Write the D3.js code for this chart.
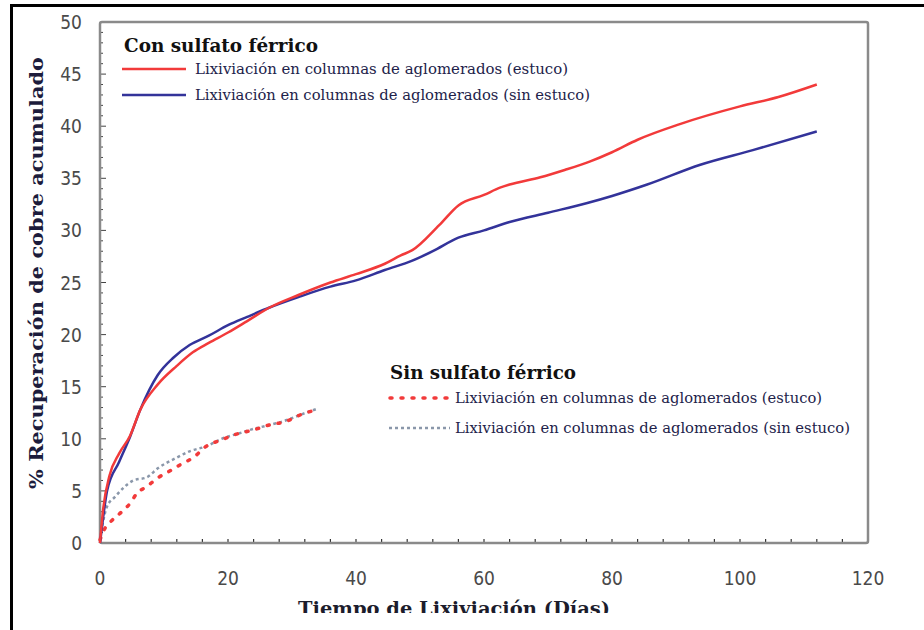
<!DOCTYPE html>
<html>
<head>
<meta charset="utf-8">
<script src="https://cdn.jsdelivr.net/npm/d3@7/dist/d3.min.js"></script>
<style>
  body { margin: 0; background: #fff; }
  #chart { width: 924px; height: 630px; }
</style>
</head>
<body>
<div id="chart"></div>
<script>
// data (días, % recuperación)
const con_estuco_dias = [0, 0.5, 1.5, 3, 4.7, 6.3, 9, 12, 14.5, 17, 20, 23, 26.5, 31, 36, 40, 44.5, 47, 48.8, 53, 56, 60, 62.5, 64, 68.8, 72.6, 76.5, 80, 84, 90.6, 100, 106, 112];
const con_estuco_val  = [0, 3.3, 6.5, 8.6, 10.3, 12.8, 15.2, 17.0, 18.3, 19.2, 20.2, 21.3, 22.6, 23.8, 25.0, 25.8, 26.8, 27.6, 28.1, 30.5, 32.4, 33.4, 34.1, 34.4, 35.1, 35.8, 36.6, 37.5, 38.7, 40.2, 41.9, 42.8, 44.0];

const con_sinestuco_dias = [0, 0.5, 1.1, 3, 4.7, 6.3, 9, 11.5, 14, 17, 20, 23, 26.5, 31, 36, 40, 44.5, 48.8, 52, 56, 60, 64, 70, 76, 80, 85.5, 93.8, 102, 112];
const con_sinestuco_val  = [0, 2.5, 5.0, 7.8, 10.2, 12.8, 16.1, 17.8, 19.0, 19.9, 20.9, 21.7, 22.6, 23.6, 24.6, 25.2, 26.2, 27.1, 28.0, 29.3, 30.0, 30.8, 31.7, 32.6, 33.3, 34.4, 36.3, 37.7, 39.5];

const sin_estuco_dias = [0, 0.5, 1.6, 3.4, 4.7, 5.8, 7.3, 8.9, 10.6, 12.5, 14.8, 16.4, 19, 21.6, 23.7, 26.3, 29.2, 31.3, 33.9];
const sin_estuco_val  = [0.3, 1.1, 2.0, 3.0, 3.8, 4.8, 5.4, 6.2, 6.8, 7.5, 8.3, 9.2, 9.9, 10.5, 10.8, 11.3, 11.7, 12.3, 12.8];

const sin_sinestuco_dias = [0, 0.3, 1.1, 2.3, 5.2, 7.3, 9.1, 11.7, 14, 16.7, 19, 21.6, 23.7, 26.3, 29.2, 31.3, 34];
const sin_sinestuco_val  = [0.5, 1.5, 3.5, 4.4, 6.0, 6.3, 7.2, 8.1, 8.8, 9.3, 10.0, 10.5, 10.9, 11.3, 11.8, 12.3, 12.9];

const x_ticks = [0, 20, 40, 60, 80, 100, 120];
const y_ticks = [0, 5, 10, 15, 20, 25, 30, 35, 40, 45, 50];

const legend_con = ["Lixiviación en columnas de aglomerados (estuco)", "Lixiviación en columnas de aglomerados (sin estuco)"];
const legend_sin = ["Lixiviación en columnas de aglomerados (estuco)", "Lixiviación en columnas de aglomerados (sin estuco)"];

const width = 924, height = 630;
const svg = d3.select("#chart").append("svg")
              .attr("width", width)
              .attr("height", height);

svg.append("rect").attr("width", width).attr("height", height).attr("fill", "#fff");

// outer frame (cut at right and bottom)
svg.append("path")
   .attr("d", `M11.5,${height} V5.5 H${width}`)
   .attr("fill", "none")
   .attr("stroke", "#000")
   .attr("stroke-width", 3);

const x = d3.scaleLinear().domain([0, 120]).range([100, 868]);
const y = d3.scaleLinear().domain([0, 50]).range([543, 22]);

const tick_font = "'DejaVu Sans Condensed', 'Liberation Sans Narrow', sans-serif";
const serif = "'DejaVu Serif', 'Liberation Serif', serif";

// minor ticks inside the frame
svg.append("g")
   .selectAll("line")
   .data(d3.range(4, 120, 4))
   .join("line")
   .attr("x1", d => x(d)).attr("x2", d => x(d))
   .attr("y1", y(0)).attr("y2", y(0) - 4)
   .attr("stroke", "#333").attr("stroke-width", 1.2);

svg.append("g")
   .selectAll("line")
   .data(d3.range(1, 50, 1))
   .join("line")
   .attr("x1", x(0)).attr("x2", d => x(0) + (d % 5 === 0 ? 6 : 3))
   .attr("y1", d => y(d)).attr("y2", d => y(d))
   .attr("stroke", "#444").attr("stroke-width", 1);

// plot frame
svg.append("rect")
   .attr("x", x(0)).attr("y", y(50))
   .attr("width", x(120) - x(0)).attr("height", y(0) - y(50))
   .attr("rx", 2)
   .attr("fill", "none")
   .attr("stroke", "#8a8a8a")
   .attr("stroke-width", 2.5);

// tick labels
svg.append("g")
   .selectAll("text")
   .data(x_ticks)
   .join("text")
   .attr("x", d => x(d))
   .attr("y", 585)
   .attr("text-anchor", "middle")
   .attr("font-family", tick_font)
   .attr("font-size", "19px")
   .attr("fill", "#4a4a4a")
   .text(d => d);

svg.append("g")
   .selectAll("text")
   .data(y_ticks)
   .join("text")
   .attr("x", 82)
   .attr("y", d => y(d) + 7)
   .attr("text-anchor", "end")
   .attr("font-family", tick_font)
   .attr("font-size", "19px")
   .attr("fill", "#4a4a4a")
   .text(d => d);

// axis titles
svg.append("text")
   .attr("transform", "translate(43,273) rotate(-90)")
   .attr("text-anchor", "middle")
   .attr("font-family", serif)
   .attr("font-weight", "bold")
   .attr("font-size", "19px")
   .attr("textLength", 432)
   .attr("lengthAdjust", "spacingAndGlyphs")
   .attr("fill", "#1c1c3c")
   .text("% Recuperación de cobre acumulado");

svg.append("clipPath").attr("id", "bottom_clip")
   .append("rect").attr("x", 0).attr("y", 0).attr("width", width).attr("height", 613);

svg.append("text")
   .attr("clip-path", "url(#bottom_clip)")
   .attr("x", 298)
   .attr("y", 615)
   .attr("font-family", serif)
   .attr("font-weight", "bold")
   .attr("font-size", "19px")
   .attr("textLength", 312)
   .attr("lengthAdjust", "spacingAndGlyphs")
   .attr("fill", "#1c1c2c")
   .text("Tiempo de Lixiviación (Días)");

// series
const make_line = (xs, ys) => d3.line()
    .x(i => x(xs[i]))
    .y(i => y(ys[i]))
    .curve(d3.curveMonotoneX)(d3.range(xs.length));

const red = "#f23a3a", blue = "#33339a", gray = "#8a97aa";

svg.append("path")
   .attr("d", make_line(sin_sinestuco_dias, sin_sinestuco_val))
   .attr("fill", "none").attr("stroke", gray)
   .attr("stroke-width", 2.5).attr("stroke-dasharray", "3,3");

svg.append("path")
   .attr("d", make_line(sin_estuco_dias, sin_estuco_val))
   .attr("fill", "none").attr("stroke", red)
   .attr("stroke-width", 3.5).attr("stroke-linecap", "round")
   .attr("stroke-dasharray", "2,9");

svg.append("path")
   .attr("d", make_line(con_sinestuco_dias, con_sinestuco_val))
   .attr("fill", "none").attr("stroke", blue).attr("stroke-width", 2.5);

svg.append("path")
   .attr("d", make_line(con_estuco_dias, con_estuco_val))
   .attr("fill", "none").attr("stroke", red).attr("stroke-width", 2.5);

// legends
const legend_text = "#22224a";

svg.append("text")
   .attr("x", 124).attr("y", 52)
   .attr("font-family", serif).attr("font-weight", "bold").attr("font-size", "18px")
   .attr("textLength", 194).attr("lengthAdjust", "spacingAndGlyphs")
   .attr("fill", "#111").text("Con sulfato férrico");

const leg1 = [{ c: red, y: 69, w: 373 }, { c: blue, y: 95, w: 395 }];
leg1.forEach((d, i) => {
    svg.append("line")
       .attr("x1", 122).attr("x2", 186).attr("y1", d.y).attr("y2", d.y)
       .attr("stroke", d.c).attr("stroke-width", 2.5);
    svg.append("text")
       .attr("x", 195).attr("y", d.y + 5)
       .attr("font-family", serif).attr("font-size", "14px")
       .attr("textLength", d.w).attr("lengthAdjust", "spacingAndGlyphs")
       .attr("fill", legend_text).text(legend_con[i]);
});

svg.append("text")
   .attr("x", 390).attr("y", 379)
   .attr("font-family", serif).attr("font-weight", "bold").attr("font-size", "18px")
   .attr("textLength", 186).attr("lengthAdjust", "spacingAndGlyphs")
   .attr("fill", "#111").text("Sin sulfato férrico");

svg.append("line")
   .attr("x1", 390).attr("x2", 450).attr("y1", 398).attr("y2", 398)
   .attr("stroke", red).attr("stroke-width", 3.5)
   .attr("stroke-linecap", "round").attr("stroke-dasharray", "2,9");
svg.append("line")
   .attr("x1", 389).attr("x2", 450).attr("y1", 428).attr("y2", 428)
   .attr("stroke", gray).attr("stroke-width", 2.5)
   .attr("stroke-dasharray", "3,3");

[{ y: 398, w: 367 }, { y: 428, w: 395 }].forEach((d, i) => {
    svg.append("text")
       .attr("x", 455).attr("y", d.y + 5)
       .attr("font-family", serif).attr("font-size", "14px")
       .attr("textLength", d.w).attr("lengthAdjust", "spacingAndGlyphs")
       .attr("fill", legend_text).text(legend_sin[i]);
});
</script>
</body>
</html>
